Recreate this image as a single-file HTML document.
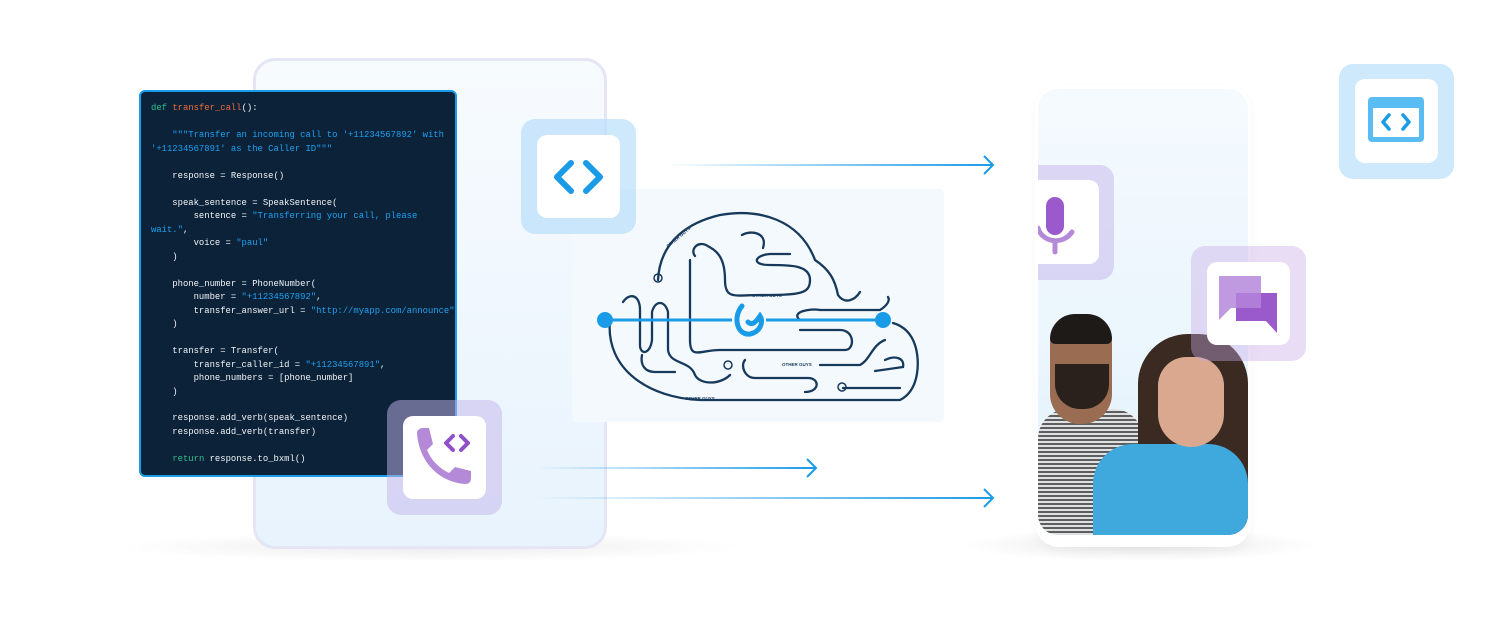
<!DOCTYPE html>
<html><head><meta charset="utf-8"><style>
*{margin:0;padding:0;box-sizing:border-box}
body{width:1512px;height:623px;background:#fff;position:relative;overflow:hidden;font-family:"Liberation Sans",sans-serif}
.abs{position:absolute}
.code{left:139px;top:90px;width:318px;height:387px;background:#0c2238;border:2px solid #1a9be8;border-radius:6px;font-family:"Liberation Mono",monospace;font-size:8.9px;color:#f1f4f8;padding:0 0 0 10px}
.code div{position:absolute;left:10px;white-space:pre}
.k{color:#2fbf8f}.f{color:#f26b3a}.s{color:#1ea1f2}
.box{border-radius:14px}
.inner{position:absolute;background:#fff;border-radius:10px}
</style></head><body>
<!-- shadows -->
<div class="abs" style="left:110px;top:532px;width:640px;height:30px;border-radius:50%;background:radial-gradient(ellipse at center,rgba(0,0,0,0.08),rgba(0,0,0,0) 70%)"></div>
<div class="abs" style="left:960px;top:528px;width:360px;height:34px;border-radius:50%;background:radial-gradient(ellipse at center,rgba(0,0,0,0.09),rgba(0,0,0,0) 70%)"></div>
<!-- back panel -->
<div class="abs" style="left:253px;top:58px;width:354px;height:491px;border-radius:22px;border:3px solid #e4e6f6;background:linear-gradient(180deg,#f7fbfe,#e8f3fd)"></div>
<!-- cloud panel -->
<div class="abs" style="left:572px;top:189px;width:372px;height:233px;background:#f4f9fd;border-radius:4px"></div>
<svg class="abs" style="left:572px;top:189px" width="372" height="233" viewBox="572 189 372 233" fill="none" stroke="#173a5c" stroke-width="2.3" stroke-linecap="round">
<path d="M658 280 C660 240 690 222 720 215 C760 208 800 220 815 260 C830 270 835 280 838 295 C845 305 855 300 860 292"/>
<path d="M610 320 C605 370 650 398 700 400 L900 400 C920 390 920 360 915 345 C910 330 900 325 893 323"/>
<path d="M742 235 C750 230 768 232 763 248"/>
<path d="M695 256 C690 250 697 241 706 245 C715 250 725 255 725 280 C725 300 735 295 760 295 C800 295 810 294 810 280 C810 265 790 265 770 265 C750 265 755 255 770 254 L790 254"/>
<path d="M690 260 L690 340 C690 360 700 350 720 350 L845 350 C855 350 855 330 840 330 L800 330"/>
<path d="M623 302 C630 292 640 295 640 310 L640 345 C640 355 650 355 652 340 L652 312 C655 300 665 300 668 312 L668 350 C670 365 690 360 695 375 C700 385 720 385 730 375"/>
<path d="M642 355 C640 365 645 372 655 372 L675 372"/>
<path d="M745 360 C740 366 745 378 755 378 L808 378 C820 378 820 392 805 392"/>
<path d="M820 365 L860 365 C870 360 872 345 885 340"/>
<path d="M885 360 C895 355 905 358 903 367 L875 371"/>
<path d="M843 388 L900 388"/>
<path d="M800 320 C790 312 810 308 820 310 L880 310 C888 305 890 300 888 297"/>
</svg>
<svg class="abs" style="left:572px;top:189px" width="372" height="233" viewBox="572 189 372 233">
<line x1="605" y1="320" x2="883" y2="320" stroke="#1a9be8" stroke-width="3"/>
<circle cx="605" cy="320" r="8" fill="#1a9be8"/><circle cx="883" cy="320" r="8" fill="#1a9be8"/>
<rect x="732" y="302" width="34" height="36" rx="10" fill="#f4f9fd"/>
<path d="M742 306 C732 318 738 336 750 334 C760 332 764 322 760 316 C756 322 752 326 748 322" fill="none" stroke="#1a9be8" stroke-width="5" stroke-linecap="round"/>
<circle cx="658" cy="278" r="4" fill="none" stroke="#173a5c" stroke-width="1.5"/>
<circle cx="728" cy="365" r="4" fill="none" stroke="#173a5c" stroke-width="1.5"/>
<circle cx="842" cy="387" r="4" fill="none" stroke="#173a5c" stroke-width="1.5"/>
<g font-size="4.5" fill="#173a5c" font-family="Liberation Sans" font-weight="bold">
<text x="752" y="297">OTHER GUYS</text><text x="782" y="366">OTHER GUYS</text><text x="685" y="400">OTHER GUYS</text>
<text x="668" y="248" transform="rotate(-40 668 248)">OTHER GUYS</text></g>
</svg>
<!-- arrows -->
<svg class="abs" style="left:0;top:0" width="1512" height="623">
<defs><linearGradient id="g" x1="0" x2="1"><stop offset="0" stop-color="#1a9be8" stop-opacity="0"/><stop offset="1" stop-color="#1a9be8"/></linearGradient></defs>
<rect x="665" y="164" width="328" height="2" fill="url(#g)"/><path d="M984 156 L993 165 L984 174" fill="none" stroke="#1a9be8" stroke-width="2"/>
<rect x="535" y="467" width="281" height="2" fill="url(#g)"/><path d="M807 459 L816 468 L807 477" fill="none" stroke="#1a9be8" stroke-width="2"/>
<rect x="535" y="497" width="458" height="2" fill="url(#g)"/><path d="M984 489 L993 498 L984 507" fill="none" stroke="#1a9be8" stroke-width="2"/>
</svg>
<!-- code -->
<div class="abs code">
<div style="top:11px"><span class="k">def</span> <span class="f">transfer_call</span>():</div>
<div style="top:38px"><span class="s">    """Transfer an incoming call to '+11234567892' with</span></div>
<div style="top:52px" class="s">'+11234567891' as the Caller ID"""</div>
<div style="top:79px">    response = Response()</div>
<div style="top:106px">    speak_sentence = SpeakSentence(</div>
<div style="top:119px">        sentence = <span class="s">"Transferring your call, please</span></div>
<div style="top:133px"><span class="s">wait."</span>,</div>
<div style="top:146px">        voice = <span class="s">"paul"</span></div>
<div style="top:160px">    )</div>
<div style="top:187px">    phone_number = PhoneNumber(</div>
<div style="top:200px">        number = <span class="s">"+11234567892"</span>,</div>
<div style="top:214px">        transfer_answer_url = <span class="s">"http://myapp.com/announce"</span></div>
<div style="top:227px">    )</div>
<div style="top:254px">    transfer = Transfer(</div>
<div style="top:268px">        transfer_caller_id = <span class="s">"+11234567891"</span>,</div>
<div style="top:281px">        phone_numbers = [phone_number]</div>
<div style="top:295px">    )</div>
<div style="top:321px">    response.add_verb(speak_sentence)</div>
<div style="top:335px">    response.add_verb(transfer)</div>
<div style="top:362px">    <span class="k">return</span> response.to_bxml()</div>
</div>
<!-- code icon box -->
<div class="abs box" style="left:521px;top:119px;width:115px;height:115px;background:rgba(180,220,250,0.65)"><div class="inner" style="left:16px;top:16px;width:83px;height:83px"></div>
<svg class="abs" style="left:16px;top:16px" width="83" height="83"><path d="M34 28 L20 42 L34 56 M49 28 L63 42 L49 56" fill="none" stroke="#1a9be8" stroke-width="6" stroke-linecap="round" stroke-linejoin="round"/></svg></div>
<!-- phone icon box -->
<div class="abs box" style="left:387px;top:400px;width:115px;height:115px;background:rgba(195,180,235,0.5)"><div class="inner" style="left:16px;top:16px;width:83px;height:83px"></div>
<svg class="abs" style="left:16px;top:16px" width="83" height="83"><path d="M14 17 C14 14 17 12 20 12 L26 12 L30 28 L24 34 C28 44 36 52 46 57 L52 51 L68 55 L68 62 C68 66 66 68 62 68 C36 66 16 46 14 17Z" fill="#b48ad8"/><path d="M50 20 L43 27 L50 34 M58 20 L65 27 L58 34" fill="none" stroke="#8f50c8" stroke-width="4" stroke-linecap="round" stroke-linejoin="round"/></svg></div>
<!-- right panel -->
<div class="abs" style="left:1035px;top:86px;width:216px;height:461px;border-radius:24px;background:#fff;box-shadow:0 4px 10px rgba(0,0,0,0.04)"></div>
<div class="abs" style="left:1038px;top:89px;width:210px;height:446px;border-radius:20px;background:linear-gradient(180deg,#f5fafe,#e3f2fc);overflow:hidden">
 <div class="abs" style="left:0;top:320px;width:105px;height:140px;background:repeating-linear-gradient(0deg,#444 0 2px,#ddd 2px 4px),#888;border-radius:30px 30px 0 0;opacity:.85"></div>
 <div class="abs" style="left:12px;top:225px;width:62px;height:110px;border-radius:30px;background:#9a6c52"></div>
 <div class="abs" style="left:12px;top:225px;width:62px;height:30px;border-radius:30px 30px 6px 6px;background:#1e1a18"></div>
 <div class="abs" style="left:17px;top:275px;width:54px;height:45px;border-radius:0 0 25px 25px;background:#2a211c"></div>
 <div class="abs" style="left:100px;top:245px;width:110px;height:210px;border-radius:50px 50px 10px 10px;background:#3a2a22"></div>
 <div class="abs" style="left:55px;top:355px;width:155px;height:100px;border-radius:40px 40px 0 0;background:#3fa9dd"></div>
 <div class="abs" style="left:120px;top:268px;width:66px;height:90px;border-radius:33px 33px 38px 38px;background:#d9a88e"></div>
</div>
<!-- mic box -->
<div class="abs" style="left:1038px;top:165px;width:76px;height:115px;background:rgba(195,180,235,0.5);border-radius:0 14px 14px 0"><div class="inner" style="left:0;top:15px;width:61px;height:84px;border-radius:0 10px 10px 0"></div>
<svg class="abs" style="left:0;top:15px" width="61" height="84"><rect x="8" y="17" width="18" height="38" rx="9" fill="#9a5acb"/><path d="M0 48 C4 62 24 66 34 52" fill="none" stroke="#b48ad8" stroke-width="5" stroke-linecap="round"/><line x1="17" y1="62" x2="17" y2="72" stroke="#b48ad8" stroke-width="5" stroke-linecap="round"/></svg></div>
<!-- chat box -->
<div class="abs box" style="left:1191px;top:246px;width:115px;height:115px;background:rgba(200,170,230,0.4)"><div class="inner" style="left:16px;top:16px;width:83px;height:83px"></div>
<svg class="abs" style="left:16px;top:16px" width="83" height="83"><path d="M12 14 L54 14 L54 46 L24 46 L12 58Z" fill="#c09ae0"/><path d="M29 31 L70 31 L70 71 L59 59 L29 59Z" fill="#9a5acb"/><path d="M29 46 L54 46 L54 31 L29 31Z" fill="#b07ed8"/></svg></div>
<!-- browser box -->
<div class="abs box" style="left:1339px;top:64px;width:115px;height:115px;background:rgba(180,220,250,0.65)"><div class="inner" style="left:16px;top:15px;width:83px;height:84px"></div>
<svg class="abs" style="left:16px;top:15px" width="83" height="84"><rect x="13" y="18" width="56" height="45" rx="4" fill="#59bcf2"/><rect x="18" y="29" width="46" height="29" fill="#fff"/><path d="M34 36 L28 43 L34 50 M48 36 L54 43 L48 50" fill="none" stroke="#1a9be8" stroke-width="3.5" stroke-linecap="round" stroke-linejoin="round"/></svg></div>
</body></html>
